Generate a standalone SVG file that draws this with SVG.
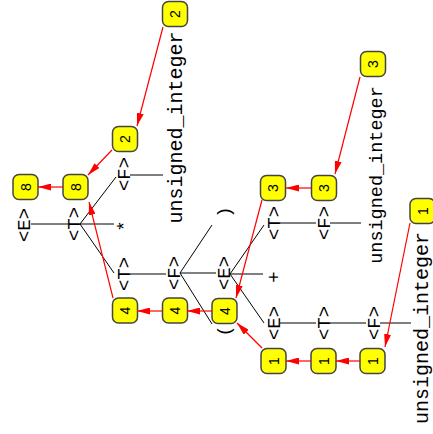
<svg xmlns="http://www.w3.org/2000/svg" width="433" height="434" viewBox="0 0 433 434">
<style>
.t{font-family:"Liberation Mono",monospace;font-size:19px;fill:#000;text-anchor:middle}
.u{font-family:"Liberation Mono",monospace;font-size:20px;fill:#000;text-anchor:middle}
.v{font-family:"Liberation Sans",sans-serif;font-size:14px;fill:#000;text-anchor:middle}
.box{fill:#ffff00;stroke:#444;stroke-width:1.5}
.e{stroke:#000;stroke-width:1;fill:none}
.a{stroke:#f00;stroke-width:1.2;fill:none;marker-end:url(#ah)}
</style>
<defs>
<marker id="ah" viewBox="0 0 13 7" refX="13" refY="3.5" markerWidth="13" markerHeight="7" markerUnits="userSpaceOnUse" orient="auto">
<path d="M0,0 L13,3.5 L0,7 z" fill="#f00"/>
</marker>
</defs>
<rect width="433" height="434" fill="#fff"/>
<g id="tree-edges">
<path class="e" d="M31,224 L68,224"/>
<path class="e" d="M80,224 L116,177"/>
<path class="e" d="M80,224 L114,224"/>
<path class="e" d="M80,224 L114,273"/>
<path class="e" d="M130,274 L166,274"/>
<path class="e" d="M180,273 L212,225"/>
<path class="e" d="M180,273 L216,273"/>
<path class="e" d="M180,273 L212,324"/>
<path class="e" d="M230,274 L264,225"/>
<path class="e" d="M230,274 L263,274"/>
<path class="e" d="M230,274 L264,323"/>
<path class="e" d="M280,223 L316,223"/>
<path class="e" d="M280,323 L316,323"/>
<path class="e" d="M330,323 L366,323"/>
<path class="e" d="M130,175 L163,175"/>
<path class="e" d="M330,223 L361,223"/>
<path class="e" d="M380,323 L411,323"/>
</g>
<g id="n-E0"><text class="t" transform="translate(30,225) rotate(-90)">&lt;E&gt;</text></g>
<g id="n-T1"><text class="t" transform="translate(80,224) rotate(-90)">&lt;T&gt;</text></g>
<g id="n-F2"><text class="t" transform="translate(130,174) rotate(-90)">&lt;F&gt;</text></g>
<g id="n-star"><text class="t" transform="translate(130,226) rotate(-90)">*</text></g>
<g id="n-T3"><text class="t" transform="translate(130,274) rotate(-90)">&lt;T&gt;</text></g>
<g id="n-F4"><text class="t" transform="translate(180,273) rotate(-90)">&lt;F&gt;</text></g>
<g id="n-rparen"><text class="t" transform="translate(230,212) rotate(-90)">)</text></g>
<g id="n-E5"><text class="t" transform="translate(230,273) rotate(-90)">&lt;E&gt;</text></g>
<g id="n-lparen"><text class="t" transform="translate(230,331) rotate(-90)">(</text></g>
<g id="n-T6"><text class="t" transform="translate(280,223) rotate(-90)">&lt;T&gt;</text></g>
<g id="n-plus"><text class="t" transform="translate(280,277) rotate(-90)">+</text></g>
<g id="n-E7"><text class="t" transform="translate(280,323) rotate(-90)">&lt;E&gt;</text></g>
<g id="n-F8"><text class="t" transform="translate(330,223) rotate(-90)">&lt;F&gt;</text></g>
<g id="n-T9"><text class="t" transform="translate(330,323) rotate(-90)">&lt;T&gt;</text></g>
<g id="n-F10"><text class="t" transform="translate(380,323) rotate(-90)">&lt;F&gt;</text></g>
<g id="n-ui1"><text class="u" transform="translate(182,127.5) rotate(-90)">unsigned_integer</text></g>
<g id="n-ui2"><text class="u" style="font-size:18.5px" transform="translate(382,175) rotate(-90)">unsigned_integer</text></g>
<g id="n-ui3"><text class="u" transform="translate(428,328) rotate(-90)">unsigned_integer</text></g>
<g id="v-E0"><rect class="box" x="13" y="174.5" width="25" height="25" rx="6"/><text class="v" transform="translate(30.5,187) rotate(-90)">8</text></g>
<g id="v-T1"><rect class="box" x="63" y="174.5" width="25" height="25" rx="6"/><text class="v" transform="translate(80.5,187) rotate(-90)">8</text></g>
<g id="v-F2"><rect class="box" x="112.5" y="126.5" width="25" height="25" rx="6"/><text class="v" transform="translate(130,139) rotate(-90)">2</text></g>
<g id="v-ui1"><rect class="box" x="162.5" y="1.5" width="25" height="25" rx="6"/><text class="v" transform="translate(180,14) rotate(-90)">2</text></g>
<g id="v-T3"><rect class="box" x="112.5" y="298" width="25" height="25" rx="6"/><text class="v" transform="translate(130,310.5) rotate(-90)">4</text></g>
<g id="v-F4"><rect class="box" x="162.5" y="298" width="25" height="25" rx="6"/><text class="v" transform="translate(180,310.5) rotate(-90)">4</text></g>
<g id="v-E5"><rect class="box" x="212" y="298.5" width="25" height="25" rx="6"/><text class="v" transform="translate(229.5,311) rotate(-90)">4</text></g>
<g id="v-T6"><rect class="box" x="260.5" y="175.5" width="25" height="25" rx="6"/><text class="v" transform="translate(278,188) rotate(-90)">3</text></g>
<g id="v-F8"><rect class="box" x="311.5" y="175.5" width="25" height="25" rx="6"/><text class="v" transform="translate(329,188) rotate(-90)">3</text></g>
<g id="v-ui2"><rect class="box" x="360.5" y="51.5" width="25" height="25" rx="6"/><text class="v" transform="translate(378,64) rotate(-90)">3</text></g>
<g id="v-E7"><rect class="box" x="261" y="348.5" width="25" height="25" rx="6"/><text class="v" transform="translate(278.5,361) rotate(-90)">1</text></g>
<g id="v-T9"><rect class="box" x="311" y="348.5" width="25" height="25" rx="6"/><text class="v" transform="translate(328.5,361) rotate(-90)">1</text></g>
<g id="v-F10"><rect class="box" x="360" y="348.5" width="25" height="25" rx="6"/><text class="v" transform="translate(377.5,361) rotate(-90)">1</text></g>
<g id="v-ui3"><rect class="box" x="410" y="198.5" width="25" height="25" rx="6"/><text class="v" transform="translate(427.5,211) rotate(-90)">1</text></g>
<g id="value-arrows">
<path class="a" d="M163,27 L137,126"/>
<path class="a" d="M112,150 L88,175"/>
<path class="a" d="M63,187 L38,187"/>
<path class="a" d="M113,298 L89,202"/>
<path class="a" d="M212,311 L187,311"/>
<path class="a" d="M162,311 L137,311"/>
<path class="a" d="M360,77 L335,174"/>
<path class="a" d="M311,188 L286,188"/>
<path class="a" d="M262,200 L236,298"/>
<path class="a" d="M410,223 L385,347"/>
<path class="a" d="M360,361 L336,361"/>
<path class="a" d="M311,361 L286,361"/>
<path class="a" d="M262,348 L237,323"/>
</g>
</svg>
